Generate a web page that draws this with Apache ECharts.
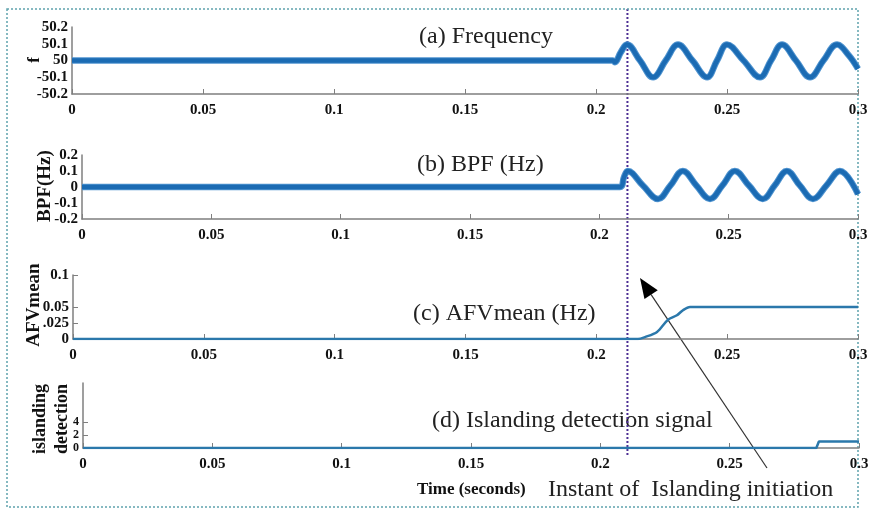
<!DOCTYPE html>
<html><head><meta charset="utf-8">
<script src="https://cdn.jsdelivr.net/npm/echarts@6/dist/echarts.min.js"></script>
<style>html,body{margin:0;padding:0;background:#fff}#c{width:870px;height:511px}</style>
</head><body><div id="c"></div>
<script>
// ---- data ----
const xTicks = [0, 0.05, 0.1, 0.15, 0.2, 0.25, 0.3];
const freqT = [0, 0.2065, 0.2072, 0.2095, 0.2118, 0.2168, 0.2218, 0.2266, 0.2313, 0.2368, 0.2424, 0.2462, 0.25, 0.2563, 0.2626, 0.2668, 0.271, 0.2763, 0.2817, 0.2868, 0.292, 0.2965, 0.3];
const freqV = [0, 0, -0.01, 0.05, 0.095, 0, -0.1, 0, 0.095, 0, -0.1, 0, 0.095, 0, -0.1, 0, 0.095, 0, -0.1, 0, 0.095, 0.03, -0.05];
const freqLabels = ['-50.2', '-50.1', '50', '50.1', '50.2'];
const bpfT = [0, 0.208, 0.2095, 0.211, 0.2168, 0.2227, 0.2275, 0.2323, 0.2375, 0.2428, 0.2476, 0.2524, 0.2578, 0.2632, 0.2678, 0.2725, 0.2775, 0.2826, 0.2878, 0.293, 0.3];
const bpfV = [0, 0, 0.06, 0.1, 0.01, -0.075, 0.01, 0.1, 0.01, -0.075, 0.01, 0.1, 0.01, -0.075, 0.01, 0.1, 0.01, -0.075, 0.01, 0.1, -0.045];
const bpfLabels = ['-0.2', '-0.1', '0', '0.1', '0.2'];
const afvT = [0, 0.2159, 0.2186, 0.2232, 0.2274, 0.2308, 0.2331, 0.2358, 0.3];
const afvV = [0, 0, 0.003, 0.011, 0.03, 0.037, 0.045, 0.05, 0.05];
const afvTicks = [0, 0.025, 0.05, 0.1];
const afvLabels = ['0', '.025', '0.05', '0.1'];
const detT = [0, 0.2835, 0.2845, 0.3];
const detV = [0, 0, 1, 1];
const detTicks = [0, 2, 4];
const detLabels = ['0', '2', '4'];
const islandT = 0.212;

const zip = (a, b) => a.map((v, i) => [v, b[i]]);
const SERIF = "'Liberation Serif','Times New Roman',serif";
const GRAY = '#7f7f7f';

const grids = [
  { left: 72, right: 12, top: 27, height: 67 },
  { left: 82, right: 12, top: 155, height: 64 },
  { left: 73, right: 12, top: 275, height: 64 },
  { left: 83, right: 11, top: 383, height: 65 }
].map(g => Object.assign(g, { containLabel: false, outerBoundsMode: 'none' }));

const xAxes = grids.map((g, i) => ({
  type: 'value', gridIndex: i, min: 0, max: 0.3, interval: 0.05,
  axisLine: { onZero: false, lineStyle: { color: GRAY, width: 1.5 } },
  axisTick: { inside: true, length: 5, lineStyle: { color: GRAY } },
  splitLine: { show: false },
  axisLabel: { color: '#111', fontFamily: SERIF, fontWeight: 'bold', fontSize: 15, margin: 9,
    showMaxLabel: true, showMinLabel: true,
    formatter: v => String(+v.toFixed(2)) }
}));

const yBase = {
  axisLine: { show: true, onZero: false, lineStyle: { color: GRAY, width: 1.5 } },
  splitLine: { show: false },
  axisLabel: { color: '#111', fontFamily: SERIF, fontWeight: 'bold', fontSize: 15, margin: 4 }
};
const yAxes = [
  Object.assign({}, yBase, { type: 'value', gridIndex: 0, min: -0.2, max: 0.2, interval: 0.1,
    axisTick: { show: false },
    axisLabel: Object.assign({}, yBase.axisLabel, { formatter: v => freqLabels[Math.round(v * 10) + 2] }) }),
  Object.assign({}, yBase, { type: 'value', gridIndex: 1, min: -0.2, max: 0.2, interval: 0.1,
    axisTick: { show: false },
    axisLabel: Object.assign({}, yBase.axisLabel, { formatter: v => bpfLabels[Math.round(v * 10) + 2] }) }),
  Object.assign({}, yBase, { type: 'value', gridIndex: 2, min: 0, max: 0.1,
    axisTick: { show: true, inside: true, length: 5, customValues: afvTicks, lineStyle: { color: GRAY } },
    axisLabel: Object.assign({}, yBase.axisLabel, { customValues: afvTicks,
      formatter: v => afvLabels[afvTicks.findIndex(t => Math.abs(t - v) < 1e-9)] }) }),
  Object.assign({}, yBase, { type: 'value', gridIndex: 3, min: 0, max: 10,
    axisTick: { show: true, inside: true, length: 5, customValues: detTicks.slice(1), lineStyle: { color: GRAY } },
    axisLabel: Object.assign({}, yBase.axisLabel, { fontSize: 12, customValues: detTicks,
      formatter: v => detLabels[detTicks.indexOf(Math.round(v))] }) })
];

const thick = (idx, data) => [
  { type: 'line', xAxisIndex: idx, yAxisIndex: idx, data, smooth: 0.4, symbol: 'none', silent: true,
    lineStyle: { color: '#4f93cf', width: 6.5 } },
  { type: 'line', xAxisIndex: idx, yAxisIndex: idx, data, smooth: 0.4, symbol: 'none', silent: true,
    lineStyle: { color: '#1b6bb3', width: 4.5 } }
];

const series = [].concat(
  thick(0, zip(freqT, freqV)),
  thick(1, zip(bpfT, bpfV)),
  [{ type: 'line', xAxisIndex: 2, yAxisIndex: 2, data: zip(afvT, afvV), smooth: 0.3, symbol: 'none',
     lineStyle: { color: '#2b78ab', width: 2.5 } },
   { type: 'line', xAxisIndex: 3, yAxisIndex: 3, data: zip(detT, detV), symbol: 'none',
     lineStyle: { color: '#2b78ab', width: 2.5 } }]
);

const chart = echarts.init(document.getElementById('c'), null, { renderer: 'canvas' });
chart.setOption({
  animation: false,
  backgroundColor: '#fff',
  grid: grids, xAxis: xAxes, yAxis: yAxes, series
});

const px = chart.convertToPixel({ xAxisIndex: 0 }, islandT);
const txt = (x, y, text, opt) => ({ type: 'text', x, y, silent: true,
  style: Object.assign({ text, fontFamily: SERIF, fontSize: 24, fill: '#222', align: 'left', verticalAlign: 'middle' }, opt || {}) });
const vtxt = (x, y, text, opt) => ({ type: 'text', x, y, rotation: Math.PI / 2, silent: true,
  style: Object.assign({ text, fontFamily: SERIF, fontSize: 19, fontWeight: 'bold', fill: '#111', align: 'center', verticalAlign: 'middle' }, opt || {}) });

// arrow
const tip = [640, 278], tail = [767, 468];
const dx = tip[0] - tail[0], dy = tip[1] - tail[1], L = Math.hypot(dx, dy);
const ux = dx / L, uy = dy / L, hl = 20, hw = 8;
const bx = tip[0] - ux * hl, by = tip[1] - uy * hl;

chart.setOption({
  graphic: [
    txt(419, 37, '(a) Frequency'),
    txt(417, 165, '(b) BPF (Hz)'),
    txt(413, 314, '(c) AFVmean (Hz)'),
    txt(432, 421, '(d) Islanding detection signal'),
    txt(417, 490, 'Time (seconds)', { fontSize: 17, fontWeight: 'bold', fill: '#111' }),
    txt(548, 490, 'Instant of  Islanding initiation'),
    vtxt(35, 60, 'f', { fontSize: 17 }),
    vtxt(45, 186, 'BPF(Hz)'),
    vtxt(34, 305, 'AFVmean'),
    vtxt(51, 419, 'islanding\ndetection', { fontSize: 18, lineHeight: 22 }),
    { type: 'line', silent: true, shape: { x1: px, y1: 9, x2: px, y2: 455 },
      style: { stroke: '#4d2f94', lineWidth: 2, lineDash: [2, 2] } },
    { type: 'line', silent: true, shape: { x1: tail[0], y1: tail[1], x2: bx, y2: by },
      style: { stroke: '#333', lineWidth: 1.2 } },
    { type: 'polygon', silent: true,
      shape: { points: [tip, [bx - uy * hw, by + ux * hw], [bx + uy * hw, by - ux * hw]] },
      style: { fill: '#000' } },
    { type: 'rect', silent: true, shape: { x: 7, y: 9, width: 851, height: 498 },
      style: { fill: 'none', stroke: '#5fa3ad', lineWidth: 1.5, lineDash: [2, 2] } }
  ]
});
</script></body></html>
